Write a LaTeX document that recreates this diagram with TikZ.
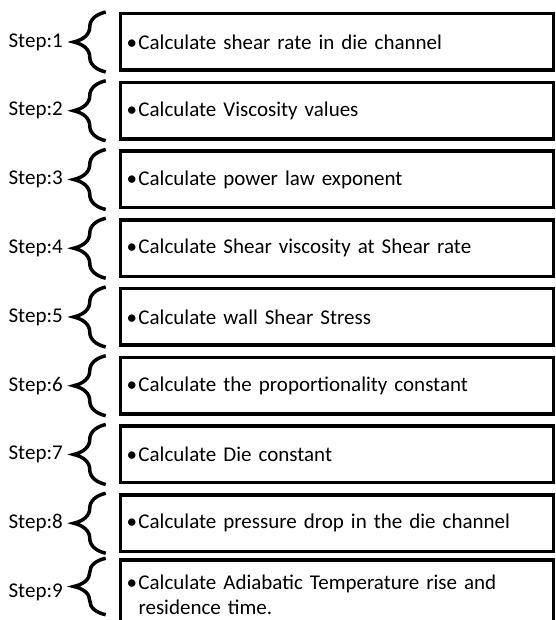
\documentclass[tikz,border=0pt]{standalone}
\usepackage{fontspec}
\setmainfont{Carlito}
\usetikzlibrary{decorations.pathreplacing}
\tikzset{
  stepbox/.style={draw, line width=3.5bp, text width=421bp, inner xsep=6bp, inner ysep=2bp,
    minimum height=56.5bp, align=left, font=\fontsize{21bp}{25bp}\selectfont},
  steplabel/.style={anchor=east, inner sep=0pt, font=\fontsize{21bp}{25bp}\selectfont},
  stepbrace/.style={decorate, decoration={brace, amplitude=32bp}, line width=3.5bp}
}
\newcommand{\bul}{\makebox[12bp][l]{\textbullet}}
\begin{document}
\begin{tikzpicture}[x=1bp, y=1bp]
  \useasboundingbox (0,0) rectangle (556,620);
  \node[stepbox] (b1) at (337,578)   {\bul Calculate shear rate in die channel};
  \node[stepbox] (b2) at (337,509.25) {\bul Calculate Viscosity values};
  \node[stepbox] (b3) at (337,440.5) {\bul Calculate power law exponent};
  \node[stepbox] (b4) at (337,371.75) {\bul Calculate Shear viscosity at Shear rate};
  \node[stepbox] (b5) at (337,303)   {\bul Calculate wall Shear Stress};
  \node[stepbox] (b6) at (337,234.25) {\bul Calculate the proportionality constant};
  \node[stepbox] (b7) at (337,165.5) {\bul Calculate Die constant};
  \node[stepbox] (b8) at (337,96.75) {\bul Calculate pressure drop in the die channel};
  \node[stepbox, minimum height=70bp] (b9) at (337,25) {\bul\parbox[t]{405bp}{\raggedright Calculate Adiabatic Temperature rise and residence time.}};
  % step labels
  \node[steplabel] (s1) at (63,578) {Step:1};    \node[steplabel] (s2) at (63,509.25) {Step:2};
  \node[steplabel] (s3) at (63,440.5) {Step:3};  \node[steplabel] (s4) at (63,371.75) {Step:4};
  \node[steplabel] (s5) at (63,303) {Step:5};    \node[steplabel] (s6) at (63,234.25) {Step:6};
  \node[steplabel] (s7) at (63,165.5) {Step:7};  \node[steplabel] (s8) at (63,96.75) {Step:8};
  \node[steplabel] (s9) at (63,28) {Step:9};
  % braces
  \draw[stepbrace] ([xshift=-13bp]b1.south west) -- ([xshift=-13bp]b1.north west);
  \draw[stepbrace] ([xshift=-13bp]b2.south west) -- ([xshift=-13bp]b2.north west);
  \draw[stepbrace] ([xshift=-13bp]b3.south west) -- ([xshift=-13bp]b3.north west);
  \draw[stepbrace] ([xshift=-13bp]b4.south west) -- ([xshift=-13bp]b4.north west);
  \draw[stepbrace] ([xshift=-13bp]b5.south west) -- ([xshift=-13bp]b5.north west);
  \draw[stepbrace] ([xshift=-13bp]b6.south west) -- ([xshift=-13bp]b6.north west);
  \draw[stepbrace] ([xshift=-13bp]b7.south west) -- ([xshift=-13bp]b7.north west);
  \draw[stepbrace] ([xshift=-13bp]b8.south west) -- ([xshift=-13bp]b8.north west);
  \draw[stepbrace] ([xshift=-13bp,yshift=-56.5bp]b9.north west) -- ([xshift=-13bp]b9.north west);
\end{tikzpicture}
\end{document}
